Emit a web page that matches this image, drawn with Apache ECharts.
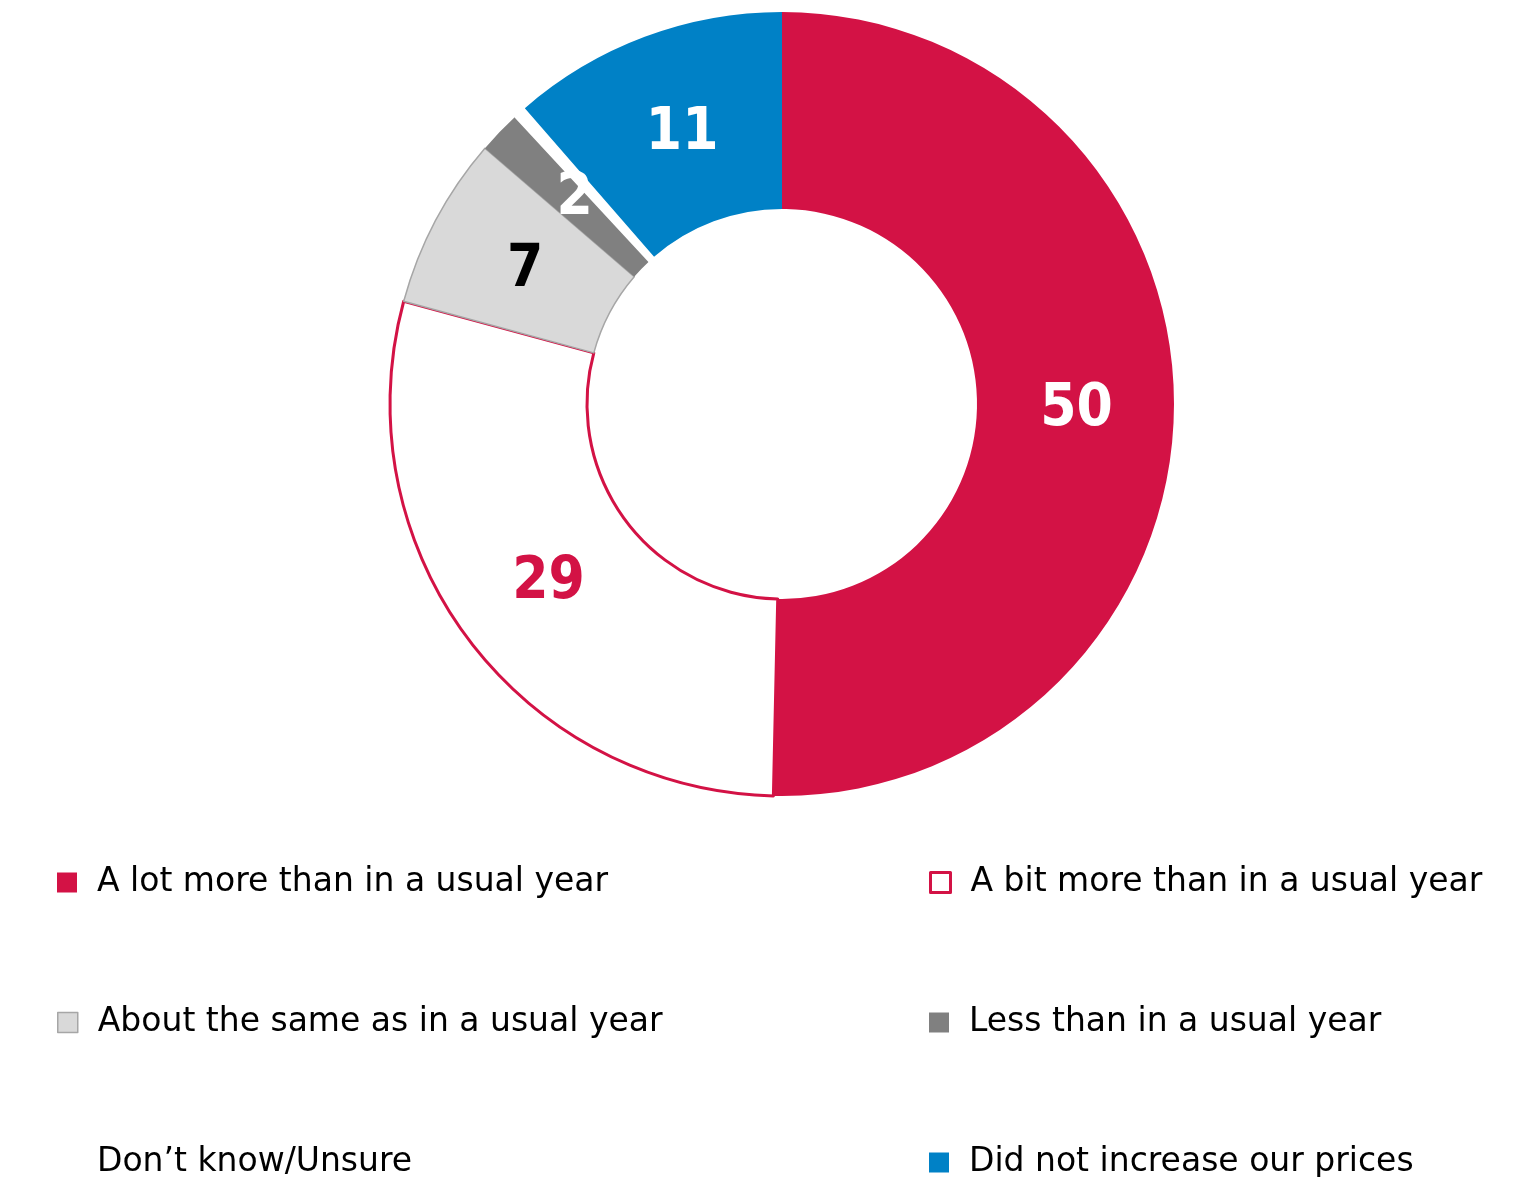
<!DOCTYPE html>
<html><head><meta charset="utf-8">
<script src="https://cdn.jsdelivr.net/npm/echarts@6/dist/echarts.min.js"></script>
<style>html,body{margin:0;padding:0;background:#fff}#c{width:1529px;height:1177px}</style>
</head><body><div id="c"></div>
<script>
const categories = ['A lot more than in a usual year','A bit more than in a usual year','About the same as in a usual year','Less than in a usual year','Don\u2019t know/Unsure','Did not increase our prices'];
const values = [50.4, 28.9, 7.1, 1.8, 0.5, 11.4];
const labels = ['50','29','7','2','','11'];
const fills = ['#D31245','#FFFFFF','#D9D9D9','#808080','#FFFFFF','#0081C6'];
const borders = ['#D31245','#D31245','#A6A6A6','#808080','#FFFFFF','#0081C6'];
const borderWidths = [0, 3, 1.5, 0, 3, 0];
const labelColors = ['#FFFFFF','#D31245','#000000','#FFFFFF','#FFFFFF','#FFFFFF'];
const labelNudges = [[-2,3],[4,1],[5,6],[6,1],[0,0],[4,8]];

const LABEL_FONT = '"DejaVu Sans Condensed", "DejaVu Sans", sans-serif';
const LEGEND_FONT = '"DejaVu Sans", sans-serif';
const chart = echarts.init(document.getElementById('c'), null, {renderer:'canvas'});

const legendPos = [[57,866],[929,866],[57,1006],[929,1006],[57,1146],[929,1146]];
const legends = categories.map((c,i)=>({
  data:[{name:c, itemStyle:{borderWidth: i===1 ? 3 : (i===2 ? 1.5 : 0), borderColor:borders[i]}}],
  left:legendPos[i][0], top:legendPos[i][1], icon:'rect', itemWidth:20, itemHeight:20, itemGap:0,
  selectedMode:false, padding:0,
  textStyle:{fontFamily:LEGEND_FONT, fontSize:33, color:'#000', padding:[0,0,0,15]},
}));

chart.setOption({
  animation:false,
  legend: legends,
  series:[{
    type:'pie', center:[782,404], radius:[195,392], startAngle:90, clockwise:true,
    avoidLabelOverlap:false, silent:true,
    label:{show:true, position:'inside', fontFamily:LABEL_FONT, fontWeight:'bold', fontSize:58},
    labelLine:{show:false},
    data: categories.map((c,i)=>({
      name:c, value:values[i],
      itemStyle:{color:fills[i], borderColor:borders[i], borderWidth:borderWidths[i]},
      label:{formatter:labels[i], color:labelColors[i], offset:labelNudges[i]}
    }))
  }]
});
</script></body></html>
